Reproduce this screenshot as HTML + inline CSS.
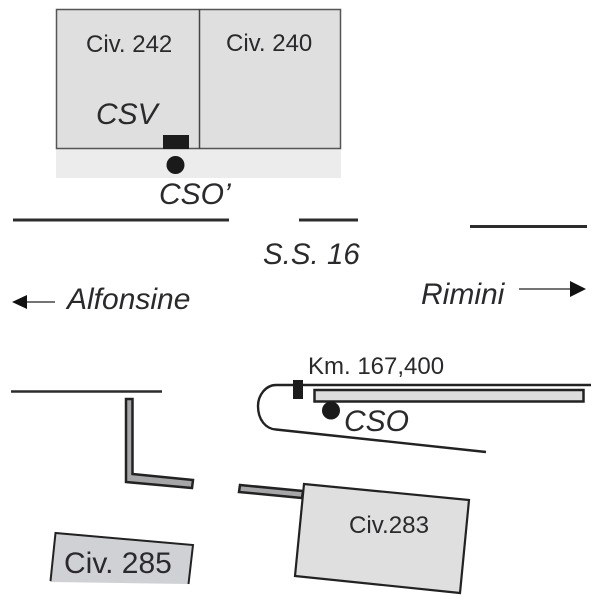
<!DOCTYPE html>
<html>
<head>
<meta charset="utf-8">
<style>
html,body{margin:0;padding:0;background:#fff;}
svg{display:block;filter:blur(0.35px);}
text{font-family:"Liberation Sans",sans-serif;fill:#2a2a2c;}
.i{font-style:italic;}
</style>
</head>
<body>
<svg width="600" height="600" viewBox="0 0 600 600" xmlns="http://www.w3.org/2000/svg">
<rect width="600" height="600" fill="#fff"/>
<rect x="56" y="149" width="285" height="29" fill="#ececec"/>
<rect x="56.500" y="9.500" width="284" height="139" fill="#dfdfdf" stroke="#555" stroke-width="1.500"/>
<line x1="199.500" y1="9" x2="199.500" y2="149" stroke="#444" stroke-width="1.500"/>
<rect x="163" y="135" width="26" height="14" fill="#1c1c1c"/>
<circle cx="175.500" cy="165" r="9" fill="#1a1a1a"/>
<text x="86" y="52" font-size="24">Civ. 242</text>
<text x="226" y="51" font-size="24">Civ. 240</text>
<text x="96" y="124" font-size="30" class="i">CSV</text>
<text x="159" y="204" font-size="30" class="i">CSO’</text>
<line x1="13" y1="220" x2="229" y2="220" stroke="#2c2c2c" stroke-width="3"/>
<line x1="299" y1="220" x2="358" y2="220" stroke="#2c2c2c" stroke-width="3"/>
<line x1="470" y1="226.500" x2="587" y2="226.500" stroke="#2c2c2c" stroke-width="3"/>
<text x="263" y="264" font-size="29.500" class="i">S.S. 16</text>
<text x="67" y="309" font-size="30" class="i">Alfonsine</text>
<text x="421" y="304" font-size="30" class="i">Rimini</text>
<line x1="24" y1="302" x2="55" y2="302" stroke="#222" stroke-width="1.300"/>
<polygon points="12,302 27,295 27,309" fill="#111"/>
<line x1="519" y1="289" x2="573" y2="289" stroke="#222" stroke-width="1.300"/>
<polygon points="586,289 570,281 570,297" fill="#111"/>
<text x="308" y="374" font-size="24">Km. 167,400</text>
<path d="M591 385 H276 C266 385 258 395 258 406 C258 420 266 429 276 429.500 L486 452" fill="none" stroke="#222" stroke-width="2.400"/>
<rect x="293" y="380" width="10" height="19" fill="#1c1c1c"/>
<rect x="314.500" y="390" width="269" height="11.500" fill="#dcdcdc" stroke="#222" stroke-width="2.500"/>
<circle cx="331" cy="410.500" r="9" fill="#1a1a1a"/>
<text x="344" y="431" font-size="30" class="i">CSO</text>
<line x1="11" y1="391.500" x2="162" y2="391.500" stroke="#2c2c2c" stroke-width="2.500"/>
<polygon points="126,399 132.500,399 132.500,474 193,480 192,488 126,482" fill="#a6a6a8" stroke="#222" stroke-width="2.500"/>
<polygon points="240,485 303,491 302,498 239,492" fill="#a6a6a8" stroke="#222" stroke-width="2.500"/>
<polygon points="304,484 469,500 460,593 295,576" fill="#dfdfdf" stroke="#222" stroke-width="2.200"/>
<text x="349" y="533" font-size="24" textLength="80" lengthAdjust="spacingAndGlyphs">Civ.283</text>
<polygon points="55,533 193,545 188,584 50,582" fill="#d0d1d5"/>
<path d="M50.500 581 L55.500 533 L193 545 L188.500 584" fill="none" stroke="#222" stroke-width="2"/>
<text x="64" y="573" font-size="30">Civ. 285</text>
</svg>
</body>
</html>
